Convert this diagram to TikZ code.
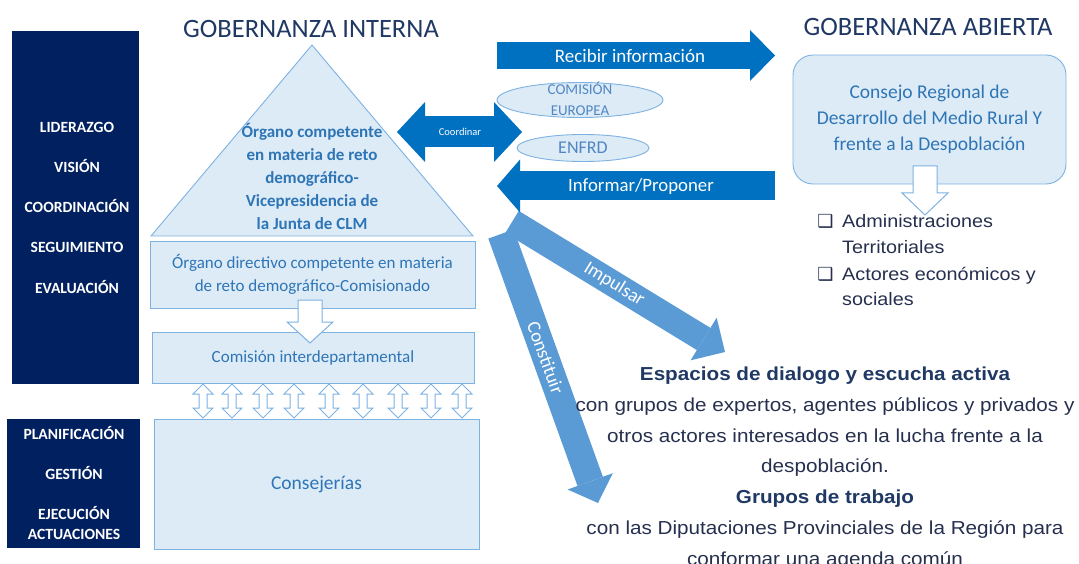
\documentclass[tikz,border=0pt]{standalone}
\usepackage{fontspec}
\setmainfont{Carlito}
\newfontfamily\arialfont{Liberation Sans}[FakeStretch=1.1]
\newfontfamily\dingfont{DejaVu Sans}
\usetikzlibrary{positioning}
\usetikzlibrary{calc}
\usetikzlibrary{arrows.meta}
\usetikzlibrary{shapes.geometric}

\definecolor{navyfill}{RGB}{0,32,96}
\definecolor{titlenavy}{RGB}{31,56,100}
\definecolor{arrowblue}{RGB}{0,112,192}
\definecolor{softblue}{RGB}{91,155,213}
\definecolor{palefill}{RGB}{221,235,247}
\definecolor{paleline}{RGB}{125,178,225}
\definecolor{boxtext}{RGB}{46,117,182}
\definecolor{ovaltext}{RGB}{80,135,195}
\definecolor{bodytext}{RGB}{38,48,78}

\tikzset{
  pale/.style       = { fill=palefill, draw=paleline, line width=0.9pt },
  hollow/.style     = { fill=white, draw=paleline, line width=1pt, line join=miter },
  title/.style      = { text=titlenavy, inner sep=0pt, font=\fontsize{26.5}{30}\selectfont },
}
\tikzset{
  panel/.style      = { rectangle, fill=navyfill, inner sep=0pt },
  sidelabel/.style  = { anchor=base, text=white, inner sep=0pt,
                        font=\bfseries\fontsize{15.6}{18}\selectfont },
  tier/.style       = { rectangle, pale, inner sep=0pt, align=center, text=boxtext },
  oval/.style       = { ellipse, pale, inner sep=0pt },
  arrowlabel/.style = { text=white, inner sep=0pt, font=\fontsize{19}{22}\selectfont },
  flatarrow/.style  = { draw=arrowblue, line cap=butt },
  slantarrow/.style = { draw=softblue, line cap=butt },
  bulletmark/.style = { anchor=base, inner sep=0pt, text=bodytext,
                        font=\dingfont\fontsize{18}{20}\selectfont },
  bulletline/.style = { anchor=base west, inner sep=0pt, text=bodytext,
                        font=\arialfont\fontsize{18}{20}\selectfont }
}

\begin{document}
\begin{tikzpicture}[x=1pt, y=-1pt]
  \useasboundingbox (0,0) rectangle (1079,564);

  % titles
  \node (internal) [title] at (311,29) {GOBERNANZA INTERNA};
  \node (open)     [title] at (928,27) {GOBERNANZA ABIERTA};

  % left panels
  \node (leadPanel) [panel, minimum width=127pt, minimum height=353pt] at (75.5,207.5) {};
  \node (runPanel)  [panel, minimum width=133pt, minimum height=129pt] at (73.5,483.5) {};
  \foreach \lbl/\ypos [count=\i] in {LIDERAZGO/128, VISIÓN/168, COORDINACIÓN/208,
                                     SEGUIMIENTO/248, EVALUACIÓN/288}
    \node (lead\i) [sidelabel] at (77,\ypos+5) {\lbl};
  \foreach \lbl/\ypos [count=\i] in {PLANIFICACIÓN/434, GESTIÓN/474, EJECUCIÓN/514,
                                     ACTUACIONES/534}
    \node (run\i) [sidelabel] at (74,\ypos+5) {\lbl};

  % pyramid
  \coordinate (apex) at (312,45);
  \coordinate (baseR) at (473,236);
  \coordinate (baseL) at (151,236);
  \draw [pale] (apex) -- (baseR) -- (baseL) -- cycle;
  \node (vice) [align=center, text=boxtext, inner sep=0pt,
                font=\bfseries\fontsize{17}{23}\selectfont] at (312,176)
    {Órgano competente\\en materia de reto\\demográfico-\\Vicepresidencia de\\la Junta de CLM};

  \node (directivo) [tier, minimum width=325pt, minimum height=67pt,
                     font=\fontsize{17}{23}\selectfont] at (312.5,274.5)
    {Órgano directivo competente en materia\\de reto demográfico-Comisionado};
  \node (comision) [tier, minimum width=322pt, minimum height=51pt,
                    font=\fontsize{17}{20}\selectfont] at (313,357.5)
    {Comisión interdepartamental};
  \node (consejerias) [tier, minimum width=325pt, minimum height=130pt,
                       font=\fontsize{19.5}{22}\selectfont] at (316.5,484)
    {Consejerías};

  \draw [hollow] (298,300) -- (322,300) -- (322,322) -- (333,322) -- (310,343)
                 -- (287,322) -- (298,322) -- cycle;
  \foreach \x in {203,232,263,294,329,363,398,431,462}
    \draw [hollow] (\x,384) -- ++(10,10) -- ++(-6,0) -- ++(0,14) -- ++(6,0)
                   -- ++(-10,10) -- ++(-10,-10) -- ++(6,0) -- ++(0,-14) -- ++(-6,0) -- cycle;

  % arrows to the right
  \coordinate (impBase) at (512,222);
  \coordinate (impTip)  at (725,352);
  \coordinate (conBase) at (501,234);
  \coordinate (conTip)  at (598,503);
  \draw [slantarrow, line width=26pt,
         -{Triangle[width=50pt, length=25pt, line width=0pt]}] (impBase) -- (impTip)
    node (impulsar) [pos=0.48, sloped, arrowlabel] {Impulsar};
  \draw [slantarrow, line width=27pt,
         -{Triangle[width=48pt, length=23pt, line width=0pt]}] (conBase) -- (conTip)
    node (constituir) [pos=0.46, sloped, arrowlabel] {Constituir};

  \coordinate (recBase) at (497,55.5);
  \coordinate (recTip)  at (775,55.5);
  \draw [flatarrow, line width=27pt,
         -{Triangle[width=51pt, length=25pt, line width=0pt]}] (recBase) -- (recTip);
  \node (recibir) [arrowlabel] at (630,55.5) {Recibir información};

  \coordinate (infBase) at (775,186);
  \coordinate (infTip)  at (497,186);
  \draw [flatarrow, line width=29pt,
         -{Triangle[width=53pt, length=23pt, line width=0pt]}] (infBase) -- (infTip);
  \node (informar) [arrowlabel, font=\fontsize{18.8}{22}\selectfont] at (641,186) {Informar/Proponer};

  \coordinate (coordL) at (397,132);
  \coordinate (coordR) at (522,132);
  \draw [flatarrow, line width=31pt,
         {Triangle[width=60pt, length=28pt, line width=0pt]}-{Triangle[width=60pt, length=28pt, line width=0pt]}]
    (coordL) -- (coordR);
  \node (coordinar) [arrowlabel, font=\fontsize{10.5}{12}\selectfont] at (460,132) {Coordinar};

  % partners
  \node (europa) [oval, minimum width=166pt, minimum height=35pt] at (580,100) {};
  \node (europaText) [align=center, text=ovaltext, inner sep=0pt,
                      font=\fontsize{15}{21}\selectfont] at (580,99) {COMISIÓN\\EUROPEA};
  \node (enfrd) [oval, minimum width=132pt, minimum height=27pt, text=ovaltext,
                 font=\fontsize{18}{20}\selectfont] at (583,148) {ENFRD};

  % open governance
  \node (consejo) [tier, rounded corners=20pt, minimum width=273pt, minimum height=129pt,
                   font=\fontsize{19.5}{26}\selectfont] at (929.5,119.5)
    {Consejo Regional de\\Desarrollo del Medio Rural Y\\frente a la Despoblación};
  \draw [hollow] (913,166) -- (937,166) -- (937,193) -- (948,193) -- (925,215)
                 -- (902,193) -- (913,193) -- cycle;

  \node (mark1) [bulletmark] at (825.5,228) {❑};
  \node (admin1) [bulletline] at (842,228) {Administraciones};
  \node (admin2) [bulletline] at (842,254) {Territoriales};
  \node (mark2) [bulletmark] at (825.5,280) {❑};
  \node (actor1) [bulletline] at (842,280) {Actores económicos y};
  \node (actor2) [bulletline] at (842,305) {sociales};

  \node (spaces) [anchor=north, align=center, inner sep=0pt, text=bodytext,
                  font=\arialfont\fontsize{18.8}{30.7}\selectfont] at (825,367)
    {{\bfseries\color{titlenavy}Espacios de dialogo y escucha activa}\\
     con grupos de expertos, agentes públicos y privados y\\
     otros actores interesados en la lucha frente a la\\
     despoblación.\\
     {\bfseries\color{titlenavy}Grupos de trabajo}\\
     con las Diputaciones Provinciales de la Región para\\
     conformar una agenda común};
\end{tikzpicture}
\end{document}
